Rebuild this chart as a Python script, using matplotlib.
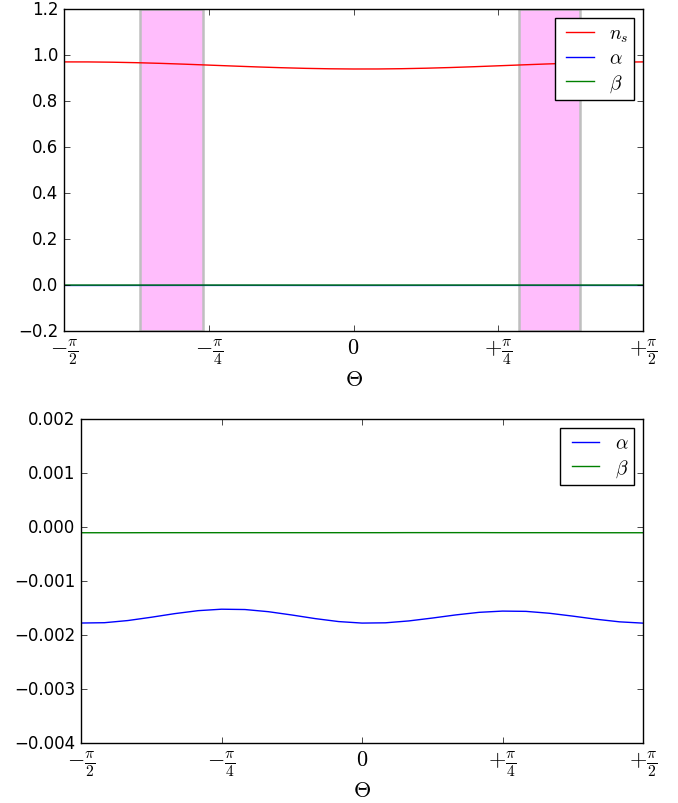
import numpy as np
import matplotlib
matplotlib.use("Agg")
import matplotlib.pyplot as plt
from matplotlib.ticker import FuncFormatter

plt.style.use('classic')
plt.rcParams['axes.unicode_minus'] = True

# Theta grid: -pi/2 .. +pi/2 in steps of pi/24
theta = [(-12 + k) * np.pi / 24 for k in range(25)]

n_s = [0.9699, 0.9698, 0.9686, 0.9665, 0.9636, 0.9600, 0.9560, 0.9520, 0.9481,
       0.9447, 0.9419, 0.9400, 0.9391, 0.9392, 0.9404, 0.9425, 0.9454, 0.9490,
       0.9530, 0.9570, 0.9609, 0.9643, 0.9671, 0.9690, 0.9699]

alpha = [-1.778e-3, -1.772e-3, -1.732e-3, -1.671e-3, -1.604e-3, -1.549e-3, -1.522e-3,
         -1.528e-3, -1.568e-3, -1.629e-3, -1.696e-3, -1.751e-3, -1.779e-3, -1.774e-3,
         -1.739e-3, -1.686e-3, -1.628e-3, -1.580e-3, -1.557e-3, -1.562e-3, -1.597e-3,
         -1.650e-3, -1.708e-3, -1.756e-3, -1.780e-3]

beta = [-1.06e-4, -1.06e-4, -1.06e-4, -1.05e-4, -1.05e-4, -1.05e-4, -1.05e-4,
        -1.05e-4, -1.05e-4, -1.05e-4, -1.05e-4, -1.05e-4, -1.05e-4, -1.05e-4,
        -1.04e-4, -1.04e-4, -1.04e-4, -1.04e-4, -1.05e-4, -1.05e-4, -1.05e-4,
        -1.05e-4, -1.06e-4, -1.06e-4, -1.06e-4]

# excluded regions (shaded)
bands = [(-1.158, -0.816), (0.898, 1.229)]

xticks = [-np.pi / 2, -np.pi / 4, 0, np.pi / 4, np.pi / 2]
xticklabels = [r'$-\frac{\pi}{2}$', r'$-\frac{\pi}{4}$', r'$0$',
               r'$+\frac{\pi}{4}$', r'$+\frac{\pi}{2}$']


def fmt(ndec):
    return FuncFormatter(lambda v, pos: f"{v:.{ndec}f}".replace('-', '\u2212'))


fig = plt.figure(figsize=(6.78, 8.04), dpi=100, facecolor='white')
ax1 = fig.add_axes([0.0944, 0.587, 0.854, 0.4006])
ax2 = fig.add_axes([0.1195, 0.0746, 0.8289, 0.403])

# top panel
for lo, hi in bands:
    ax1.axvspan(lo, hi, facecolor='#ffbdfc', edgecolor='#bfbfbf', linewidth=1.8)
ax1.plot(theta, n_s, 'r', label=r'$n_s$')
ax1.plot(theta, alpha, 'b', label=r'$\alpha$')
ax1.plot(theta, beta, 'g', label=r'$\beta$')
ax1.set_ylim(-0.2, 1.2)
ax1.yaxis.set_major_formatter(fmt(1))

# bottom panel
ax2.plot(theta, alpha, 'b', label=r'$\alpha$')
ax2.plot(theta, beta, 'g', label=r'$\beta$')
ax2.set_ylim(-0.004, 0.002)
ax2.yaxis.set_major_formatter(fmt(3))

for ax in (ax1, ax2):
    ax.set_facecolor('white')
    ax.set_xlim(-np.pi / 2, np.pi / 2)
    ax.set_xticks(xticks)
    ax.set_xticklabels(xticklabels, fontsize=16)
    ax.tick_params(axis='x', pad=4)
    ax.set_xlabel(r'$\Theta$', fontsize=16, labelpad=2)
    ax.legend(loc='upper right', fontsize=14, handlelength=2.0,
              handletextpad=0.5, labelspacing=0.25, borderpad=0.3,
              borderaxespad=0.45)

fig.savefig('out.png', dpi=100, facecolor='white')
